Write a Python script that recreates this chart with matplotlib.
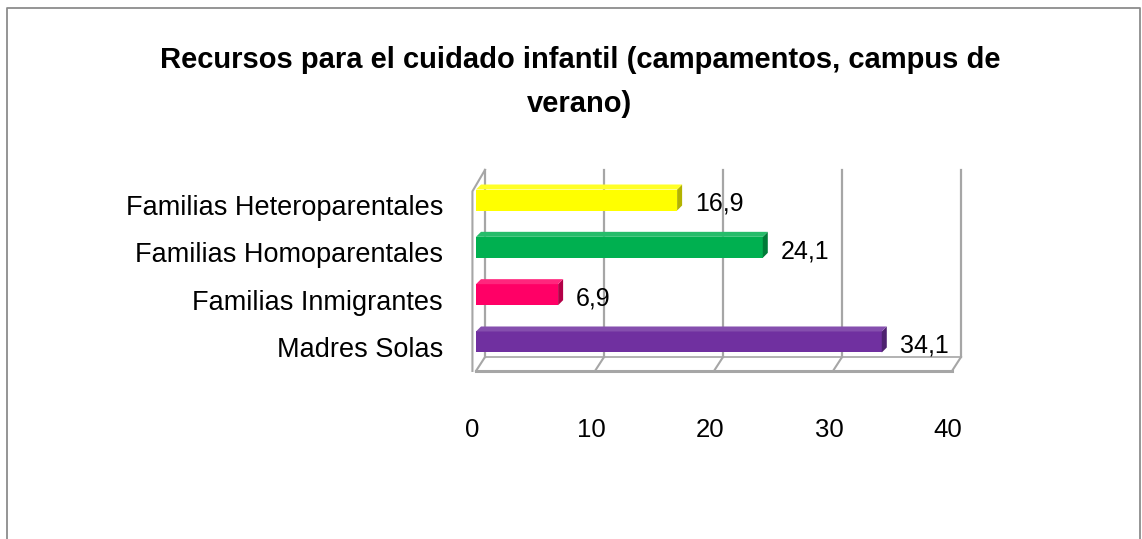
import matplotlib
matplotlib.use("Agg")
import matplotlib.pyplot as plt
from matplotlib.transforms import ScaledTranslation
from matplotlib.patches import Polygon
from matplotlib.lines import Line2D
import matplotlib.colors as mcolors

plt.rcParams["font.family"] = ["Liberation Sans", "DejaVu Sans"]

title = "Recursos para el cuidado infantil (campamentos, campus de\nverano)"
categories = ["Familias Heteroparentales", "Familias Homoparentales",
              "Familias Inmigrantes", "Madres Solas"]
values = [16.9, 24.1, 6.9, 34.1]
value_labels = ["16,9", "24,1", "6,9", "34,1"]
colors = ["#FFFF00", "#00B050", "#FF0066", "#7030A0"]
xticks = [0, 10, 20, 30, 40]

W, H = 1142, 539
fig = plt.figure(figsize=(W / 100, H / 100), dpi=100)

x0, x1 = 476, 476 + 11.9 * 40
ytop, ybot = 180, 370
ax = fig.add_axes([x0 / W, 1 - ybot / H, (x1 - x0) / W, (ybot - ytop) / H])
ax.set_xlim(0, 40)
sp = 47.33
ax.set_ylim((ybot - 200) / sp, (ytop - 200) / sp)
for s in ax.spines.values():
    s.set_visible(False)
ax.set_xticks([])
ax.set_yticks([])
ax.patch.set_alpha(0)

ypos = list(range(len(categories)))
bh = 21 / sp
back = ax.transData + ScaledTranslation(9 / 100, 12 / 100, fig.dpi_scale_trans)
grid_c = "#A6A6A6"

ylo = (ybot - 200) / sp - 0.02
yhi = (ytop - 200) / sp + 0.04
for t in xticks:
    ax.plot([t, t], [ylo, yhi], color=grid_c, lw=1.6, transform=back, clip_on=False)
ax.plot([0, 40], [ylo + 0.04, ylo + 0.04], color=grid_c, lw=2.2, clip_on=False)
ax.plot([0, 40], [ylo, ylo], color=grid_c, lw=1.2, transform=back, clip_on=False)
disp = ax.transData
for t in xticks:
    p_front = disp.transform((t, ylo + 0.04))
    p_back = back.transform((t, ylo))
    fig.add_artist(Line2D([p_front[0] / W, p_back[0] / W], [p_front[1] / H, p_back[1] / H],
                          color=grid_c, lw=1.5, transform=fig.transFigure))
pf_top = disp.transform((-0.3, yhi + 0.2))
pf_bot = disp.transform((-0.3, ylo + 0.04))
pb_top = back.transform((0, yhi))
fig.add_artist(Line2D([pf_bot[0] / W, pf_top[0] / W, pb_top[0] / W],
                      [pf_bot[1] / H, pf_top[1] / H, pb_top[1] / H],
                      color=grid_c, lw=1.5, transform=fig.transFigure))

off = 5
for y, v, c in zip(ypos, values, colors):
    dark = tuple(max(0, ch * 0.7) for ch in mcolors.to_rgb(c))
    light = tuple(min(1, ch * 0.85 + 0.15) for ch in mcolors.to_rgb(c))
    p1 = disp.transform((v, y - bh / 2))
    p2 = disp.transform((v, y + bh / 2))
    side = Polygon([[p1[0], p1[1]], [p1[0] + off, p1[1] + off],
                    [p2[0] + off, p2[1] + off], [p2[0], p2[1]]],
                   closed=True, transform=None, facecolor=dark, edgecolor="none")
    fig.add_artist(side)
    q1 = disp.transform((0, y - bh / 2))
    top = Polygon([[q1[0], q1[1]], [q1[0] + off, q1[1] + off],
                   [p1[0] + off, p1[1] + off], [p1[0], p1[1]]],
                  closed=True, transform=None, facecolor=light, edgecolor="none")
    fig.add_artist(top)
ax.barh(ypos, values, height=bh, color=colors, edgecolor="none", zorder=3)

for y, v, lab in zip(ypos, values, value_labels):
    ax.annotate(lab, (v, y), xytext=(18, -4), textcoords="offset pixels",
                ha="left", va="center", fontsize=18, annotation_clip=False)

for y, lab in zip(ypos, categories):
    ax.annotate(lab, (0, y), xytext=(-33, -8), textcoords="offset pixels",
                ha="right", va="center", fontsize=19.5, annotation_clip=False)

for t in xticks:
    ax.annotate(str(t), (t, 0), xycoords=("data", "axes fraction"),
                xytext=(-4, -60), textcoords="offset pixels",
                ha="center", va="center", fontsize=18.5, annotation_clip=False)

fig.text(580 / W, 1 - 82 / H, title, ha="center", va="center",
         fontsize=21, fontweight="bold", linespacing=1.7)

fc = "#8C8C8C"
fig.add_artist(Line2D([7 / W, 7 / W, 1140 / W, 1140 / W], [0, 1 - 8 / H, 1 - 8 / H, 0],
                      color=fc, lw=1.3, transform=fig.transFigure))

fig.savefig("out.png", dpi=100)
